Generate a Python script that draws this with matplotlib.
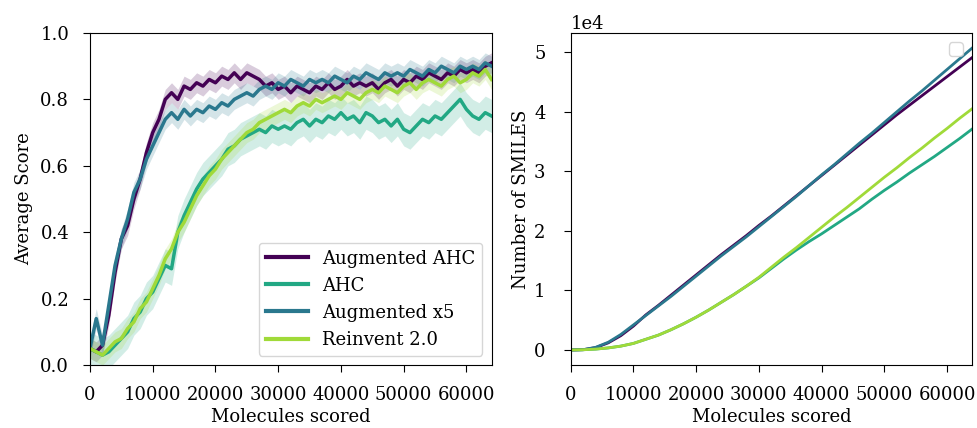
import numpy as np
import matplotlib
matplotlib.use('Agg')
import matplotlib.pyplot as plt

plt.rcParams['font.family'] = 'DejaVu Serif'
plt.rcParams['font.size'] = 13

# ---- data ----
labels = ['Augmented AHC', 'AHC', 'Augmented x5', 'Reinvent 2.0']
colors = ['#440154', '#22a884', '#2a788e', '#a0da39']

# average score, one value per 1000 molecules scored (0 .. 64000)
score_steps = np.arange(0, 65000, 1000)
score_aug_ahc = [0.05, 0.04, 0.06, 0.15, 0.28, 0.38, 0.42, 0.50, 0.56, 0.64,
                 0.70, 0.74, 0.80, 0.82, 0.80, 0.84, 0.83, 0.85, 0.84, 0.86,
                 0.85, 0.87, 0.86, 0.88, 0.86, 0.88, 0.87, 0.86, 0.84, 0.85,
                 0.83, 0.84, 0.82, 0.84, 0.83, 0.82, 0.84, 0.83, 0.85, 0.83,
                 0.84, 0.86, 0.84, 0.85, 0.84, 0.85, 0.83, 0.85, 0.86, 0.84,
                 0.86, 0.85, 0.87, 0.86, 0.88, 0.87, 0.86, 0.88, 0.87, 0.89,
                 0.88, 0.89, 0.88, 0.90, 0.91]
score_ahc = [0.05, 0.04, 0.03, 0.04, 0.06, 0.08, 0.10, 0.14, 0.16, 0.20,
             0.22, 0.26, 0.30, 0.29, 0.40, 0.45, 0.49, 0.53, 0.56, 0.58,
             0.60, 0.62, 0.65, 0.66, 0.68, 0.69, 0.70, 0.71, 0.70, 0.72,
             0.71, 0.72, 0.71, 0.73, 0.74, 0.72, 0.74, 0.73, 0.75, 0.74,
             0.76, 0.74, 0.75, 0.73, 0.76, 0.75, 0.73, 0.74, 0.72, 0.74,
             0.71, 0.70, 0.72, 0.74, 0.73, 0.75, 0.74, 0.76, 0.78, 0.80,
             0.77, 0.75, 0.74, 0.76, 0.75]
score_aug_x5 = [0.05, 0.14, 0.06, 0.18, 0.30, 0.38, 0.44, 0.52, 0.56, 0.62,
                0.66, 0.70, 0.74, 0.76, 0.74, 0.77, 0.75, 0.77, 0.76, 0.78,
                0.77, 0.79, 0.78, 0.80, 0.81, 0.82, 0.81, 0.83, 0.84, 0.83,
                0.85, 0.84, 0.86, 0.85, 0.84, 0.86, 0.85, 0.86, 0.85, 0.87,
                0.86, 0.85, 0.87, 0.86, 0.88, 0.87, 0.86, 0.88, 0.87, 0.88,
                0.87, 0.89, 0.88, 0.87, 0.89, 0.88, 0.90, 0.89, 0.88, 0.90,
                0.89, 0.90, 0.89, 0.91, 0.90]
score_reinvent = [0.05, 0.04, 0.03, 0.05, 0.07, 0.08, 0.11, 0.13, 0.17, 0.19,
                  0.23, 0.27, 0.32, 0.35, 0.40, 0.43, 0.47, 0.51, 0.54, 0.57,
                  0.59, 0.62, 0.64, 0.66, 0.68, 0.70, 0.71, 0.73, 0.74, 0.75,
                  0.76, 0.77, 0.76, 0.78, 0.79, 0.78, 0.80, 0.79, 0.80, 0.81,
                  0.80, 0.82, 0.81, 0.80, 0.82, 0.83, 0.82, 0.84, 0.83, 0.82,
                  0.84, 0.85, 0.83, 0.85, 0.86, 0.85, 0.84, 0.86, 0.87, 0.85,
                  0.86, 0.88, 0.87, 0.89, 0.86]
score_std = [0.03, 0.05, 0.03, 0.03]

# cumulative unique SMILES, one value per 2000 molecules scored
smiles_steps = np.arange(0, 66000, 2000)
smiles_aug_ahc = [0, 50, 400, 1200, 2400, 4000, 5900, 7500, 9200, 10900,
                  12600, 14300, 16000, 17600, 19200, 20900, 22500, 24200,
                  25900, 27600, 29300, 31000, 32700, 34400, 36100, 37800,
                  39500, 41100, 42700, 44300, 45900, 47500, 49100]
smiles_ahc = [0, 40, 150, 350, 650, 1100, 1800, 2500, 3400, 4400,
              5500, 6700, 8000, 9300, 10700, 12100, 13700, 15300,
              16800, 18200, 19500, 20900, 22300, 23700, 25300, 26800,
              28200, 29700, 31100, 32500, 34000, 35500, 37100]
smiles_aug_x5 = [0, 50, 450, 1300, 2600, 4200, 5800, 7400, 9000, 10700,
                 12400, 14100, 15800, 17400, 19000, 20700, 22400, 24100,
                 25800, 27600, 29400, 31100, 32900, 34700, 36400, 38200,
                 40000, 41800, 43500, 45300, 47100, 48900, 50700]
smiles_reinvent = [0, 40, 150, 350, 650, 1100, 1800, 2500, 3400, 4400,
                   5500, 6700, 8000, 9300, 10700, 12200, 13900, 15600,
                   17200, 18900, 20600, 22300, 23900, 25600, 27300, 29000,
                   30600, 32300, 33900, 35600, 37200, 38900, 40500]

scores = [score_aug_ahc, score_ahc, score_aug_x5, score_reinvent]
smiles = [smiles_aug_ahc, smiles_ahc, smiles_aug_x5, smiles_reinvent]

fig, (ax1, ax2) = plt.subplots(1, 2, figsize=(9.78, 4.28), dpi=100)
fig.subplots_adjust(left=0.092, right=0.994, top=0.923, bottom=0.147, wspace=0.197)

# left: average score with shaded spread
for lab, col, y, sd in zip(labels, colors, scores, score_std):
    y = np.array(y)
    ax1.fill_between(score_steps, y - sd, y + sd, color=col, alpha=0.2, linewidth=0)
    ax1.plot(score_steps, y, color=col, lw=2.5, label=lab)

ax1.set_xlim(0, 64000)
ax1.set_ylim(0, 1.0)
ax1.set_xlabel('Molecules scored', labelpad=3)
ax1.set_ylabel('Average Score', labelpad=5)
leg = ax1.legend(loc='lower right', handlelength=2.3)
for h in leg.get_lines():
    h.set_linewidth(3)

# right: cumulative number of SMILES
for lab, col, y in zip(labels, colors, smiles):
    ax2.plot(smiles_steps, y, color=col, lw=2)

ax2.set_xlim(0, 64000)
ax2.ticklabel_format(axis='y', style='sci', scilimits=(0, 0))
ax2.set_xlabel('Molecules scored', labelpad=3)
ax2.set_ylabel('Number of SMILES', labelpad=3)
ax2.legend(loc='upper right')  # no labelled artists -> empty box

for ax in (ax1, ax2):
    ax.set_xticks(np.arange(0, 70000, 10000))
    ax.tick_params(axis='x', length=5, pad=10)
ax1.tick_params(axis='y', length=5, pad=10)
ax2.tick_params(axis='y', length=5, pad=13)

plt.savefig('out.png')
